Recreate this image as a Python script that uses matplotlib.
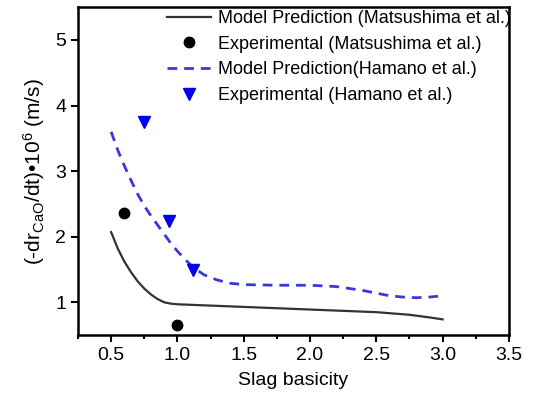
import matplotlib
matplotlib.use("Agg")
from matplotlib import pyplot as plt
from matplotlib.ticker import MultipleLocator

plt.rcParams['font.family'] = ['Liberation Sans', 'DejaVu Sans']
plt.rcParams['mathtext.fontset'] = 'custom'
plt.rcParams['mathtext.rm'] = 'Liberation Sans'
plt.rcParams['mathtext.it'] = 'Liberation Sans'

# model prediction (Matsushima et al.)
mat_x = [0.5, 0.55, 0.6, 0.65, 0.7, 0.75, 0.8, 0.85, 0.9, 0.95, 1.0,
         1.25, 1.5, 1.75, 2.0, 2.25, 2.5, 2.75, 2.9, 3.0]
mat_y = [2.07, 1.82, 1.62, 1.46, 1.32, 1.21, 1.12, 1.05, 1.0, 0.98, 0.97,
         0.95, 0.93, 0.91, 0.89, 0.87, 0.85, 0.81, 0.77, 0.74]

# experimental (Matsushima et al.)
mat_exp_x = [0.6, 1.0]
mat_exp_y = [2.36, 0.65]

# model prediction (Hamano et al.)
ham_x = [0.5, 0.55, 0.6, 0.65, 0.7, 0.75, 0.8, 0.85, 0.9, 0.95, 1.0,
         1.05, 1.1, 1.15, 1.2, 1.3, 1.4, 1.5, 1.75, 2.0, 2.2, 2.4, 2.5,
         2.6, 2.7, 2.8, 2.9, 3.0]
ham_y = [3.6, 3.32, 3.08, 2.86, 2.65, 2.47, 2.32, 2.18, 2.04, 1.9, 1.78,
         1.67, 1.57, 1.49, 1.42, 1.34, 1.29, 1.27, 1.26, 1.26, 1.24, 1.18, 1.14,
         1.1, 1.08, 1.07, 1.08, 1.10]

# experimental (Hamano et al.)
ham_exp_x = [0.75, 0.94, 1.12]
ham_exp_y = [3.75, 2.24, 1.5]

fig = plt.figure(figsize=(5.36, 3.98), dpi=100)
ax = fig.add_axes([0.1455, 0.158, 0.804, 0.824])

ax.plot(mat_x, mat_y, color="#333333", linewidth=1.6,
        label="Model Prediction (Matsushima et al.)")
ax.plot(mat_exp_x, mat_exp_y, 'o', color="black", markersize=7.5,
        label="Experimental (Matsushima et al.)")
ax.plot(ham_x, ham_y, color="#3838dd", linestyle=(0, (3.5, 2.5)), linewidth=2,
        label="Model Prediction(Hamano et al.)")
ax.plot(ham_exp_x, ham_exp_y, 'v', color="#0000ee", markersize=8.5,
        label="Experimental (Hamano et al.)")

ax.set_xlim(0.25, 3.5)
ax.set_ylim(0.5, 5.5)
ax.xaxis.set_minor_locator(MultipleLocator(0.25))
ax.set_xticks([0.5, 1.0, 1.5, 2.0, 2.5, 3.0, 3.5])
ax.set_xticklabels(["0.5", "1.0", "1.5", "2.0", "2.5", "3.0", "3.5"])
ax.set_yticks([1, 2, 3, 4, 5])

for s in ax.spines.values():
    s.set_linewidth(1.8)
ax.tick_params(which="major", direction="out", length=5, width=1.5, labelsize=14)
ax.tick_params(which="minor", direction="out", length=3, width=1.5)

ax.set_xlabel("Slag basicity", fontsize=14, labelpad=6)
ax.set_ylabel("(-dr$_{\\mathrm{CaO}}$/dt)\u202210$^{6}$ (m/s)", fontsize=15, labelpad=6)

ax.legend(loc="upper right", bbox_to_anchor=(1.006, 0.994), frameon=False, fontsize=13,
          handlelength=2.4, handletextpad=0.4, labelspacing=0.48,
          borderaxespad=0.0, borderpad=0.05)

fig.savefig("out.png", dpi=100)
